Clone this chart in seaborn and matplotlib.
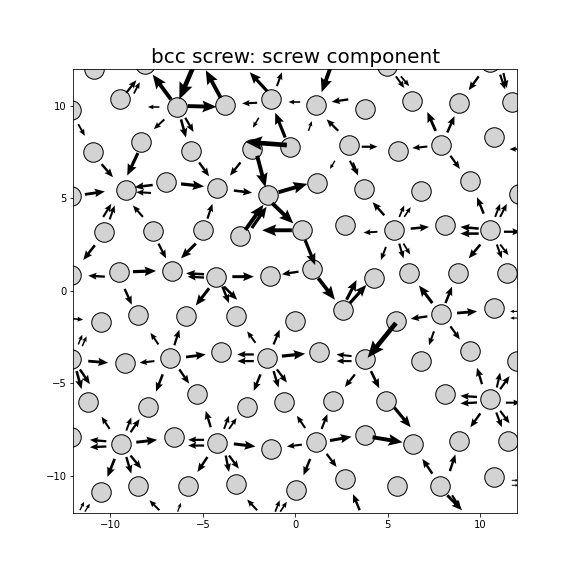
import numpy as np
import matplotlib
matplotlib.use("Agg")
import matplotlib.pyplot as plt
import seaborn as sns

# atom columns (projected positions)
atom_x = [-10.88, -8.12, 4.96, 10.55,
          -12.15, -9.50, -6.42, -3.82, -1.31, 1.13, 3.76, 6.31, 8.89, 11.72,
          -10.93, -8.35, -5.65, -2.33, -0.27, 2.90, 5.54, 7.90, 10.74,
          -12.15, -9.18, -6.97, -4.25, -1.47, 1.16, 3.71, 6.79, 9.48, 12.1,
          -10.34, -7.71, -4.98, -2.96, 0.36, 2.72, 5.32, 8.13, 10.55,
          -12.15, -9.55, -6.68, -4.26, -1.38, 0.90, 4.25, 6.17, 8.80, 11.45,
          -10.52, -8.51, -5.91, -3.23, 0.0, 2.56, 5.45, 7.87, 10.74,
          -12.15, -9.23, -6.77, -4.03, -1.52, 1.31, 3.76, 6.79, 9.44, 11.99,
          -11.2, -7.94, -5.29, -2.63, -0.59, 2.06, 4.91, 8.08, 10.56,
          -12.15, -9.44, -6.58, -4.21, -1.31, 1.13, 3.76, 6.38, 8.89, 11.54,
          -10.52, -8.48, -5.82, -3.23, 0.05, 2.69, 5.50, 7.81, 10.77]
atom_y = [12.03, 12.29, 12.15, 12.4,
          9.78, 10.41, 9.96, 10.04, 10.36, 10.05, 9.86, 10.27, 10.18, 10.23,
          7.53, 8.05, 7.56, 7.67, 7.81, 7.89, 7.58, 7.90, 8.33,
          5.12, 5.47, 5.88, 5.56, 5.20, 5.84, 5.52, 5.38, 5.93, 5.25,
          3.19, 3.23, 3.28, 2.97, 3.28, 3.57, 3.28, 3.58, 3.28,
          0.86, 1.00, 1.09, 0.77, 0.81, 1.17, 0.72, 0.99, 0.99, 0.99,
          -1.68, -1.33, -1.38, -1.38, -1.61, -1.02, -1.61, -1.25, -0.93,
          -3.71, -3.89, -3.62, -3.32, -3.62, -3.30, -3.71, -3.80, -3.23, -3.80,
          -5.99, -6.31, -5.59, -6.27, -5.99, -5.95, -5.95, -5.59, -5.86,
          -7.92, -8.28, -7.92, -8.24, -8.55, -8.19, -7.78, -8.28, -8.15, -8.15,
          -10.88, -10.57, -10.57, -10.43, -10.79, -10.16, -10.57, -10.57, -10.07]

# differential displacement arrows: tail -> head
tail_x = [-9.14, -8.73, -5.40, -6.72, -4.03, -5.82, -7.35, -6.18, -5.95, -7.08,
          -11.74, -8.51, -10.48, -7.71, -7.80, -6.18, -5.20, -11.38, -10.39, -10.04,
          -8.24, -4.75,
          -1.52, -0.99, 1.95, -2.06, 0.27, 2.87, -1.97, -0.54, 0.72, 2.33,
          -0.45, 3.60, -2.96, -2.06, 2.15, 2.96, 3.13, -3.32, -0.90, -2.70,
          -2.35, -1.25,
          5.45, 5.72, 9.93, 11.09, 11.27, 7.60, 8.23, 7.15, 8.40, 12.30,
          4.82, 5.63, 5.90, 10.20, 10.82, 11.09,
          -10.84, -7.40, -5.38, -10.30, -8.78, -4.93, -4.93, -4.66, -9.23, -12.10,
          -7.40, -6.54, -11.74, -11.52, -11.20, -7.62, -5.91,
          -0.18, 0.54, 1.25, 2.78, 2.96, 0.18, -3.40, -3.94, -3.85, 4.45,
          -2.15, -1.17, -2.24, -2.24, -0.72, 3.05, 3.05, 5.45,
          6.25, 9.93, 9.93, 11.30, 4.91, 5.63, 5.86, 10.02, 10.91, 11.09,
          7.42, 8.13, 7.15, 8.76, 12.08, 12.08, 7.51, 8.40,
          -11.83, -11.65, -7.17, -6.27, -10.04, -9.14, -8.91, -10.22, -10.22, -8.60,
          -4.57, -4.93, -4.93, -9.77, -9.14, -8.91, -4.75, -11.65, -11.38, -7.35,
          -6.36,
          -1.88, -1.17, -0.99, 3.23, -3.85, -3.58, 0.54, 1.43, -3.32, 0.36,
          1.88, -3.76, -3.58, 0.81, 1.70, -2.06, -1.08, -0.81, 3.49,
          4.10, 10.11, 10.91, 11.09, 9.84, 9.84, 11.40, 5.36, 10.02, 10.88,
          11.09, 4.19, 7.42, 8.37, 8.23, 8.49, 11.72, 11.72]
tail_y = [10.72, 10.68, 12.40, 10.36, 10.45, 10.00, 9.95, 9.28, 9.37, 9.28,
          9.02, 7.46, 6.86, 5.73, 5.30, 5.79, 6.95, 5.22, 4.00, 3.87,
          4.00, 3.91,
          10.81, 11.08, 12.20, 10.18, 10.22, 10.36, 9.37, 8.30, 8.66, 8.66,
          7.89, 7.80, 6.95, 7.31, 7.04, 7.04, 6.95, 5.43, 5.34, 3.30,
          3.40, 4.75,
          11.61, 11.61, 11.61, 11.70, 11.79, 8.66, 8.57, 7.81, 7.31, 7.67,
          4.09, 4.00, 4.00, 4.18, 4.00, 4.00,
          2.47, 2.56, 2.56, 0.77, 1.04, 0.90, 0.72, 0.14, 0.11, -1.50,
          -2.90, -2.94, -2.90, -2.99, -3.80, -3.80, -3.58,
          3.28, 2.74, 0.68, -0.48, -0.66, 1.04, 0.77, 0.23, 0.23, 3.20,
          -2.81, -2.90, -3.44, -3.80, -3.53, -3.53, -3.80, -1.74,
          3.37, 3.37, 3.10, 3.20, 2.38, 2.56, 2.56, 2.51, 2.51, 2.51,
          -0.66, -0.66, -1.38, -1.20, -1.11, -1.47, -2.19, -1.92,
          -4.34, -4.25, -4.52, -4.25, -7.47, -7.56, -7.65, -8.14, -8.42, -8.19,
          -7.38, -8.06, -8.37, -9.09, -8.99, -8.91, -8.99, -11.87, -11.95, -11.87,
          -11.95,
          -4.52, -4.34, -4.25, -4.52, -7.47, -7.47, -7.42, -7.47, -8.28, -8.32,
          -8.10, -8.91, -8.91, -9.09, -8.82, -11.87, -11.95, -11.95, -11.87,
          -4.34, -5.05, -5.23, -5.32, -5.74, -6.04, -6.05, -6.31, -6.63, -6.58,
          -6.49, -7.92, -9.89, -9.75, -11.06, -11.06, -10.25, -10.52]
head_x = [-8.60, -8.41, -6.27, -7.71, -4.84, -4.26, -7.97, -5.91, -5.50, -7.65,
          -11.38, -9.09, -9.86, -8.69, -8.60, -4.93, -4.66, -10.30, -9.95, -9.77,
          -8.78, -4.48,
          -2.46, -0.72, 1.43, -2.87, -0.36, 1.97, -2.29, -1.08, 0.90, 1.70,
          -2.69, 4.45, -3.53, -1.61, 1.88, 3.32, 3.40, -2.33, 0.66, -1.72,
          -1.55, -0.10,
          5.90, 6.17, 9.39, 11.36, 11.45, 7.15, 8.62, 6.34, 8.91, 11.60,
          4.19, 5.90, 6.25, 9.84, 11.09, 11.45,
          -11.47, -6.99, -6.18, -11.20, -7.53, -5.91, -5.82, -5.38, -8.84, -11.47,
          -7.83, -6.27, -11.52, -11.29, -10.12, -8.42, -4.84,
          -1.79, 1.08, 2.15, 3.32, 3.85, -0.72, -2.24, -3.58, -3.14, 3.70,
          -2.60, -0.84, -3.13, -3.13, 0.54, 2.24, 2.24, 3.92,
          7.24, 8.94, 8.94, 12.20, 4.64, 5.86, 6.22, 9.39, 11.18, 11.54,
          6.70, 8.49, 6.25, 9.84, 11.63, 11.63, 7.24, 8.91,
          -11.56, -11.11, -7.53, -5.74, -10.48, -8.87, -8.42, -11.11, -11.11, -7.47,
          -4.84, -5.79, -5.79, -10.16, -8.87, -8.33, -5.29, -11.42, -11.11, -7.89,
          -6.18,
          -2.24, -0.90, -0.45, 2.69, -3.58, -3.17, 0.09, 1.74, -2.15, -0.45,
          3.05, -3.58, -3.05, 0.45, 2.24, -2.60, -0.84, -0.45, 3.13,
          4.55, 9.84, 11.09, 11.60, 8.94, 8.94, 12.20, 6.25, 9.48, 11.18,
          11.60, 5.81, 6.88, 8.67, 9.03, 8.94, 12.10, 12.10]
head_y = [11.40, 11.29, 10.36, 11.70, 11.94, 9.96, 9.95, 8.30, 8.60, 8.75,
          8.39, 6.24, 6.15, 5.61, 5.34, 5.65, 6.20, 5.38, 4.71, 4.62,
          4.62, 4.71,
          11.83, 11.83, 10.75, 10.14, 10.22, 10.23, 8.83, 9.64, 9.19, 9.28,
          8.06, 7.80, 6.24, 5.61, 6.60, 6.33, 6.24, 5.31, 5.79, 4.66,
          4.55, 3.65,
          10.98, 11.08, 10.86, 10.90, 10.98, 9.68, 9.46, 7.73, 6.60, 7.67,
          4.80, 4.62, 4.53, 5.07, 4.71, 4.71,
          1.67, 1.76, 1.76, 0.82, 1.08, 0.95, 0.77, -0.79, -0.75, -1.56,
          -2.27, -2.10, -2.37, -2.46, -3.89, -3.89, -3.44,
          3.28, 1.40, -0.48, 0.59, 0.32, 0.90, 0.77, -0.66, -0.48, 3.15,
          -2.19, -2.10, -3.44, -3.80, -3.40, -3.44, -3.80, -3.62,
          3.46, 3.46, 3.10, 3.20, 1.67, 1.76, 1.97, 1.76, 1.76, 1.94,
          0.29, 0.23, -1.51, -1.11, -1.11, -1.47, -2.94, -2.63,
          -5.32, -5.05, -5.45, -5.02, -6.81, -6.85, -6.94, -8.06, -8.46, -8.06,
          -6.49, -8.06, -8.37, -10.07, -9.89, -9.62, -9.80, -11.41, -11.51, -11.33,
          -11.47,
          -5.41, -5.23, -4.96, -5.20, -6.76, -6.88, -6.76, -6.67, -8.42, -8.42,
          -7.89, -9.80, -9.62, -9.98, -9.53, -11.29, -11.33, -11.41, -11.00,
          -5.27, -4.16, -4.42, -4.61, -5.68, -6.09, -6.05, -7.38, -7.38, -7.38,
          -7.17, -8.19, -9.09, -8.85, -11.87, -11.77, -10.25, -10.52]

tx = np.array(tail_x)
ty = np.array(tail_y)
u = np.array(head_x) - tx
v = np.array(head_y) - ty
mag = np.hypot(u, v)

fig = plt.figure(figsize=(8, 8), dpi=72)
ax = fig.add_subplot(111)

sns.scatterplot(x=atom_x, y=atom_y, s=380, color="lightgrey",
                edgecolor="black", linewidth=1, ax=ax, zorder=1, legend=False)

# longer arrows are drawn a bit heavier
groups = [(mag < 1.45, 0.0072), ((mag >= 1.45) & (mag < 1.9), 0.0088),
          (mag >= 1.9, 0.0105)]
for m, w in groups:
    ax.quiver(tx[m], ty[m], u[m], v[m], angles="xy", scale_units="xy", scale=1,
              color="black", width=w, headwidth=3, headlength=3.6,
              headaxislength=3.2, minshaft=2, zorder=2)

ax.set_xlim(-12, 12)
ax.set_ylim(-12, 12)
ax.set_aspect("equal")
ax.set_xticks([-10, -5, 0, 5, 10])
ax.set_yticks([-10, -5, 0, 5, 10])
ax.set_title("bcc screw: screw component", fontsize=20)

fig.savefig("out.png", dpi=72)
